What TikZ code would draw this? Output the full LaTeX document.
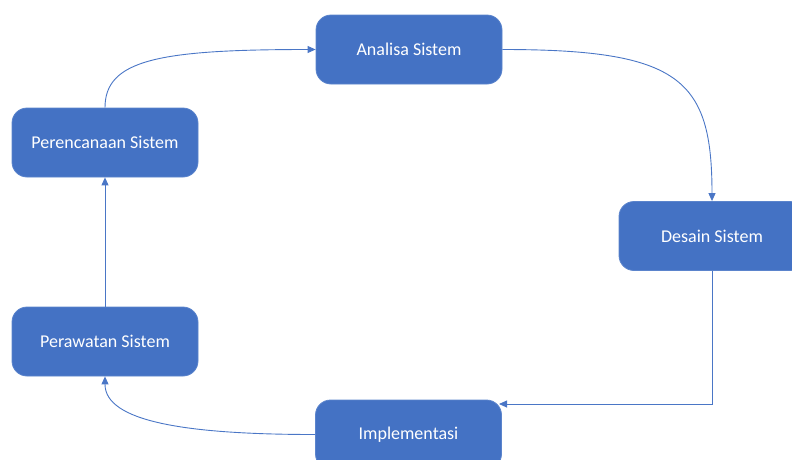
\documentclass[tikz,border=0pt]{standalone}
\usepackage{fontspec}
\setmainfont{Carlito}
\usetikzlibrary{arrows.meta,calc}
\definecolor{boxblue}{HTML}{4472C4}
\definecolor{edgeblue}{HTML}{5B84CC}
\definecolor{lineblue}{HTML}{4A76C6}
\tikzset{
  stagebox/.style={rectangle, rounded corners=15pt, fill=boxblue, draw=edgeblue,
    line width=0.8pt, minimum width=186pt, minimum height=69pt, inner sep=0pt,
    text=white, font=\fontsize{18}{21}\selectfont},
  flow/.style={draw=lineblue, line width=0.9pt, -{Triangle[length=8pt,width=7pt]}}
}
\begin{document}
\begin{tikzpicture}[x=1pt,y=-1pt]
\useasboundingbox (0,0) rectangle (792,459);
\node[stagebox] (ana) at (409,49.5) {Analisa Sistem};
\node[stagebox] (ren) at (105,142.5) {Perencanaan Sistem};
\node[stagebox] (des) at (712,236) {Desain Sistem};
\node[stagebox] (raw) at (105,341.5) {Perawatan Sistem};
\node[stagebox] (imp) at (408.5,434.5) {Implementasi};
\coordinate (impin) at (499,404);
\draw[flow] (ren.north) .. controls +(0,-48) and +(-156,0) .. (ana.west);
\draw[flow] (ana.east) .. controls +(178,0) and +(0,-122) .. (des.north);
\draw[flow] (des.south) |- (impin);
\draw[flow] (imp.west) .. controls +(-130,0) and +(0,45) .. (raw.south);
\draw[flow] (raw.north) -- (ren.south);
\end{tikzpicture}
\end{document}
